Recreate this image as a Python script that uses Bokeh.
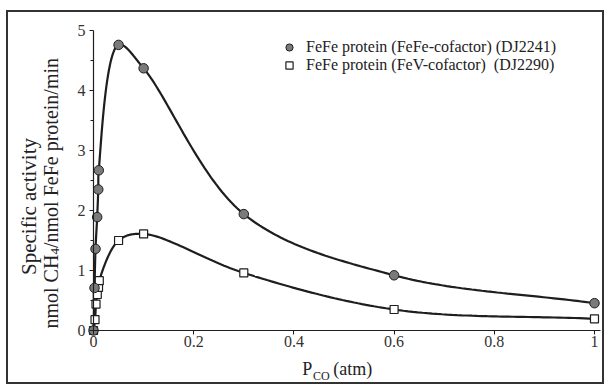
import numpy as np
from bokeh.plotting import figure
from bokeh.models import Range1d, FixedTicker, Legend, LegendItem, Label
from bokeh.embed import file_html
from bokeh.resources import INLINE

# ---- data ----
fefe_x = [0.0, 0.002, 0.004, 0.0073, 0.0095, 0.0105, 0.05, 0.1, 0.3, 0.6, 1.0]
fefe_y = [0.0, 0.71, 1.36, 1.89, 2.35, 2.67, 4.76, 4.37, 1.94, 0.92, 0.455]
fev_x = [0.0, 0.003, 0.005, 0.0075, 0.0100, 0.0115, 0.05, 0.1, 0.3, 0.6, 1.0]
fev_y = [0.0, 0.18, 0.44, 0.60, 0.72, 0.83, 1.50, 1.61, 0.96, 0.35, 0.195]
fefe_label = "FeFe protein (FeFe-cofactor) (DJ2241)"
fev_label = "FeFe protein (FeV-cofactor)  (DJ2290)"
x_ticks = [0, 0.2, 0.4, 0.6, 0.8, 1.0]
x_tick_labels = ["0", "0.2", "0.4", "0.6", "0.8", "1"]
y_ticks = [0, 1, 2, 3, 4, 5]

FONT = "Liberation Serif"
INK = "#1e1e1e"


def smooth(xs, ys, sx, sy, n=40):
    """Centripetal Catmull-Rom curve through the points (computed in pixel-like space)."""
    P = np.column_stack([np.asarray(xs) * sx, np.asarray(ys) * sy])
    P = np.vstack([2 * P[0] - P[1], P, 2 * P[-1] - P[-2]])
    out = []
    for i in range(1, len(P) - 2):
        p0, p1, p2, p3 = P[i - 1], P[i], P[i + 1], P[i + 2]
        t0 = 0.0
        t1 = t0 + max(np.linalg.norm(p1 - p0), 1e-6) ** 0.5
        t2 = t1 + max(np.linalg.norm(p2 - p1), 1e-6) ** 0.5
        t3 = t2 + max(np.linalg.norm(p3 - p2), 1e-6) ** 0.5
        for t in np.linspace(t1, t2, n, endpoint=False):
            a1 = (t1 - t) / (t1 - t0) * p0 + (t - t0) / (t1 - t0) * p1
            a2 = (t2 - t) / (t2 - t1) * p1 + (t - t1) / (t2 - t1) * p2
            a3 = (t3 - t) / (t3 - t2) * p2 + (t - t2) / (t3 - t2) * p3
            b1 = (t2 - t) / (t2 - t0) * a1 + (t - t0) / (t2 - t0) * a2
            b2 = (t3 - t) / (t3 - t1) * a2 + (t - t1) / (t3 - t1) * a3
            c = (t2 - t) / (t2 - t1) * b1 + (t - t1) / (t2 - t1) * b2
            out.append(c)
    out.append(P[-2])
    out = np.array(out)
    return out[:, 0] / sx, out[:, 1] / sy


# the frame covers the whole canvas; axes sit at data 0 so nothing is clipped
p = figure(width=594, height=370, output_backend="svg", toolbar_location=None,
           x_range=Range1d(-0.1697, 1.016), y_range=Range1d(-0.8667, 5.3),
           min_border_left=0, min_border_right=0, min_border_top=0, min_border_bottom=0)
p.styles = {"outline": "2px solid #333333", "margin-left": "8px", "margin-top": "12px"}
p.outline_line_color = None
p.grid.visible = False
p.background_fill_color = "white"
p.border_fill_color = "white"

for ax in (p.xaxis[0], p.yaxis[0]):
    ax.axis_line_color = INK
    ax.axis_line_width = 1.2
    ax.major_tick_line_color = INK
    ax.minor_tick_line_color = INK
    ax.major_label_text_font = FONT
    ax.major_label_text_font_size = "16px"
    ax.major_label_text_color = "#333333"
    ax.major_tick_in = 0
    ax.minor_tick_in = 0
    ax.fixed_location = 0

p.xaxis.ticker = FixedTicker(ticks=x_ticks)
p.xaxis.major_label_overrides = {t: l for t, l in zip(x_ticks, x_tick_labels)}
p.xaxis.major_tick_out = 4
p.xaxis.minor_tick_out = 0
p.xaxis.major_label_standoff = 2

p.xaxis.bounds = (0, 1.012)

p.yaxis.ticker = FixedTicker(ticks=y_ticks, minor_ticks=[v + 0.5 for v in y_ticks[:-1]])
p.yaxis.major_tick_out = 4
p.yaxis.minor_tick_out = 3
p.yaxis.major_label_standoff = 4
p.yaxis.bounds = (0, 5)

sx, sy = 501.0, 60.0
cx, cy = smooth(fefe_x, fefe_y, sx, sy)
vx, vy = smooth(fev_x, fev_y, sx, sy)
p.line(vx, vy, line_color=INK, line_width=2.2)
p.line(cx, cy, line_color=INK, line_width=2.2)
sq = p.scatter(fev_x, fev_y, marker="square", size=8, fill_color="white",
               line_color=INK, line_width=1.2)
ci = p.scatter(fefe_x, fefe_y, marker="circle", size=9.5, fill_color="#7a7a7a",
               line_color=INK, line_width=1.0)

legend = Legend(items=[LegendItem(label=fefe_label, renderers=[ci]),
                       LegendItem(label=fev_label, renderers=[sq])],
                location=(270, 308), orientation="vertical",
                border_line_color=None, background_fill_alpha=0,
                label_text_font=FONT, label_text_font_size="16px", label_text_color="#222222",
                glyph_width=22, glyph_height=18, spacing=0, padding=0, margin=0,
                label_standoff=6, label_height=16)
p.add_layout(legend)

# axis titles (with subscripts) as annotations, frame-relative screen units
def lab(text, x, y, size, angle=0.0, align="left", baseline="alphabetic"):
    p.add_layout(Label(x=x, y=y, x_units="screen", y_units="screen", text=text,
                       text_font=FONT, text_font_size=size, text_color="#222222",
                       angle=angle, text_align=align, text_baseline=baseline))

lab("P", 293.7, 13.5, "18px")
lab("CO", 304.5, 7, "12px")
lab("(atm)", 324.7, 13.5, "18px")

rot = np.pi / 2
lab("Specific activity", 20, 176, "21px", angle=rot, align="center", baseline="middle")
lab("nmol CH", 42, 54, "20px", angle=rot, align="left", baseline="middle")
lab("4", 46, 128, "13px", angle=rot, align="left", baseline="middle")
lab("/nmol FeFe protein/min", 42, 134.5, "20px", angle=rot, align="left", baseline="middle")

open("out.html", "w").write(file_html(p, INLINE))
